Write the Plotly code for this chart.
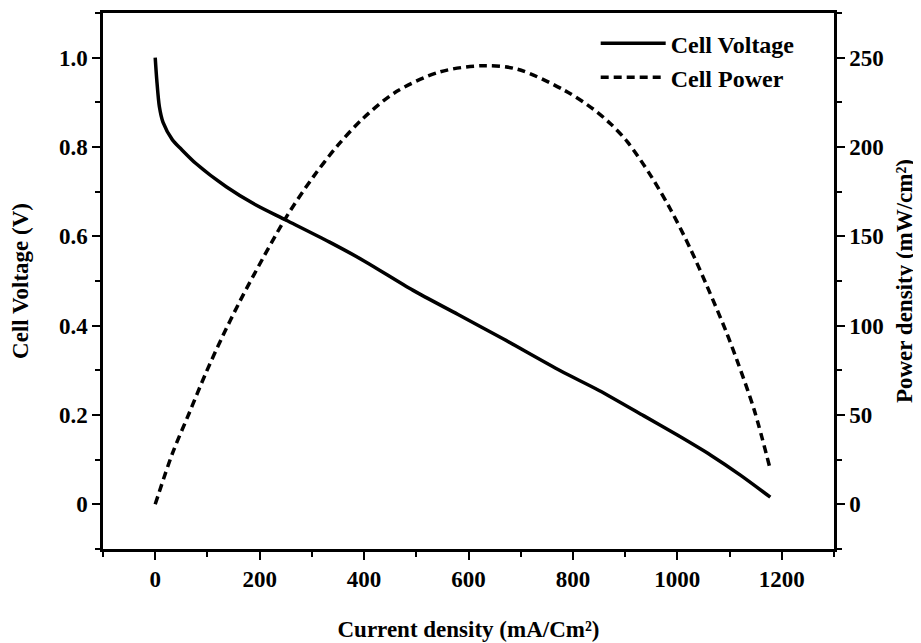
import plotly.graph_objects as go

# Cell voltage curve
volt_current = [0, 3, 8, 15, 33, 50, 78, 136, 193, 251, 334, 400, 494, 580, 667, 776, 850, 936, 1000, 1064, 1120, 1178]
volt_values = [1.0, 0.95, 0.89, 0.855, 0.816, 0.795, 0.763, 0.711, 0.670, 0.636, 0.587, 0.545, 0.479, 0.425, 0.370, 0.299, 0.255, 0.198, 0.155, 0.110, 0.066, 0.016]

# Cell power curve
power_current = [0, 33, 65, 97, 129, 161, 190, 251, 302, 350, 398, 462, 545, 628, 693, 782, 840, 872, 904, 949, 987, 1025, 1057, 1093, 1115, 1147, 1178]
power_values = [0, 28.5, 51, 73.5, 94, 113, 129, 160.8, 183, 201, 216, 231, 242, 245.5, 243.6, 232, 221, 213, 203, 184, 165, 143, 122, 97, 80, 53, 19.5]

x_ticks = [0, 200, 400, 600, 800, 1000, 1200]
y_ticks = [0, 0.2, 0.4, 0.6, 0.8, 1.0]
y_ticklabels = ["0", "0.2", "0.4", "0.6", "0.8", "1.0"]
y2_ticks = [0, 50, 100, 150, 200, 250]

FONT = "Liberation Serif"
fig = go.Figure()
fig.add_trace(go.Scatter(x=volt_current, y=volt_values, mode="lines", name="Cell Voltage",
                         line=dict(color="black", width=3.5, shape="spline", smoothing=0.8)))
fig.add_trace(go.Scatter(x=power_current, y=power_values, mode="lines", name="Cell Power", yaxis="y2",
                         line=dict(color="black", width=3.5, dash="8px,5px", shape="spline", smoothing=0.9)))

axis_common = dict(showline=True, linecolor="black", linewidth=2.5, ticks="outside", ticklen=8,
                   tickwidth=2, tickcolor="black", showgrid=False, zeroline=False, automargin=False,
                   tickfont=dict(family=FONT, size=23, color="black", weight="bold"))
title_font = dict(family=FONT, size=23, color="black", weight="bold")

fig.update_layout(
    width=913, height=635,
    margin=dict(l=95, r=87, t=5, b=94),
    plot_bgcolor="white", paper_bgcolor="white",
    font=dict(family=FONT, color="black", weight="bold"),
    xaxis=dict(range=[-100, 1300], tickvals=x_ticks, mirror=True,
               minor=dict(dtick=100, tick0=0, ticks="outside", ticklen=5, tickwidth=2, tickcolor="black"),
               title=dict(text="Current density (mA/Cm²)", font=title_font, standoff=30),
               **axis_common),
    yaxis=dict(range=[-0.1, 1.1], tickvals=y_ticks, ticktext=y_ticklabels,
               minor=dict(dtick=0.1, tick0=0, ticks="outside", ticklen=5, tickwidth=2, tickcolor="black"),
               title=dict(text="Cell Voltage (V)", font=title_font, standoff=32),
               **axis_common),
    yaxis2=dict(range=[-25, 275], tickvals=y2_ticks, overlaying="y", side="right",
                minor=dict(dtick=25, tick0=0, ticks="outside", ticklen=5, tickwidth=2, tickcolor="black"),
                title=dict(text="Power density (mW/cm²)", font=title_font, standoff=14),
                **axis_common),
    legend=dict(x=0.674, y=0.985, xanchor="left", yanchor="top", bgcolor="rgba(0,0,0,0)",
                font=dict(family=FONT, size=24, color="black", weight="bold"), itemwidth=65,
                tracegroupgap=0),
    showlegend=True,
)

fig.write_html("out.html")
